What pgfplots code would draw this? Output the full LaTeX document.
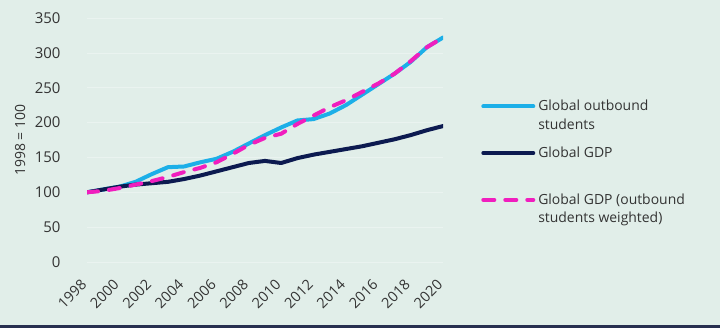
\documentclass[border=0pt]{standalone}
\usepackage{pgfplots}
\pgfplotsset{compat=1.18}
\usepackage{fontspec}
\setmainfont{Open Sans}
\definecolor{bg}{HTML}{E1EEE9}
\definecolor{cyanl}{HTML}{1CAFE8}
\definecolor{navy}{HTML}{0C1A50}
\definecolor{magl}{HTML}{F01EBE}
\definecolor{txt}{HTML}{333333}
\definecolor{botline}{HTML}{283050}
\newcommand{\lt}[1]{\begin{tabular}[t]{@{}l@{}}#1\end{tabular}}
\begin{document}
\begin{tikzpicture}[x=1bp,y=1bp]
\fill[bg] (0,0) rectangle (720,328);
\fill[botline] (0,0) rectangle (720,3);
\begin{axis}[
  at={(87bp,66bp)}, anchor=south west,
  scale only axis, width=356bp, height=244bp,
  xmin=1998, xmax=2020, ymin=0, ymax=350,
  axis line style={draw=none},
  major tick length=0,
  xtick={1998,2000,...,2020},
  ytick={0,50,...,350},
  /pgf/number format/1000 sep={},
  /pgf/number format/assume math mode=true,
  ymajorgrids, grid style={color=white!30!bg, line width=0.5bp},
  tick label style={text=txt},
  y tick label style={font=\fontsize{15}{17}\selectfont, xshift=-23bp},
  x tick label style={font=\fontsize{14.5}{16}\selectfont, xshift=-7bp, yshift=-16bp, rotate=45, anchor=north east, inner sep=0bp},
  ylabel={1998 = 100},
  every axis y label/.style={at={(axis description cs:-0.188,0.5)}, rotate=90, anchor=center, font=\fontsize{14}{16}\selectfont, text=txt},
  legend style={draw=none, fill=none, at={(axis description cs:1.107,0.661)}, anchor=north west,
    font=\fontsize{14}{18.3}\selectfont, text=txt, row sep=0bp, column sep=3bp, inner sep=0pt,
    nodes={inner sep=0pt, anchor=base west, text height=10bp, text depth=36.7bp}},
  legend cell align=left,
  legend image code/.code={\draw[#1] (0bp,4.5bp) -- (50bp,4.5bp);},
  line join=round,
]
\addplot[cyanl, line width=4bp, line cap=round] coordinates {
(1998,100)(1999,104)(2000,108)(2001,115)(2002,126)(2003,136)(2004,137)(2005,143)(2006,148)(2007,158)(2008,170)(2009,182)(2010,193)(2011,203)(2012,205)(2013,213)(2014,225)(2015,240)(2016,255)(2017,270)(2018,287)(2019,308)(2020,322)};
\addlegendentry{\lt{Global outbound\\students}}
\addplot[navy, line width=4bp, line cap=round] coordinates {
(1998,100)(1999,104)(2000,108)(2001,111)(2002,113)(2003,115)(2004,119)(2005,124)(2006,130)(2007,136)(2008,142)(2009,145)(2010,142)(2011,149)(2012,154)(2013,158)(2014,162)(2015,166)(2016,171)(2017,176)(2018,182)(2019,189)(2020,195)};
\addlegendentry{\lt{Global GDP}}
\addplot[magl, line width=4bp, line cap=round, dash pattern=on 11bp off 11bp] coordinates {
(1998,100)(1999,102)(2000,106)(2001,111)(2002,116)(2003,122)(2004,129)(2005,135)(2006,143)(2007,155)(2008,168)(2009,178)(2010,184)(2011,198)(2012,210)(2013,222)(2014,232)(2015,244)(2016,256)(2017,270)(2018,288)(2019,308)(2020,322)};
\addlegendentry{\lt{Global GDP (outbound\\students weighted)}}
\end{axis}
\end{tikzpicture}
\end{document}
